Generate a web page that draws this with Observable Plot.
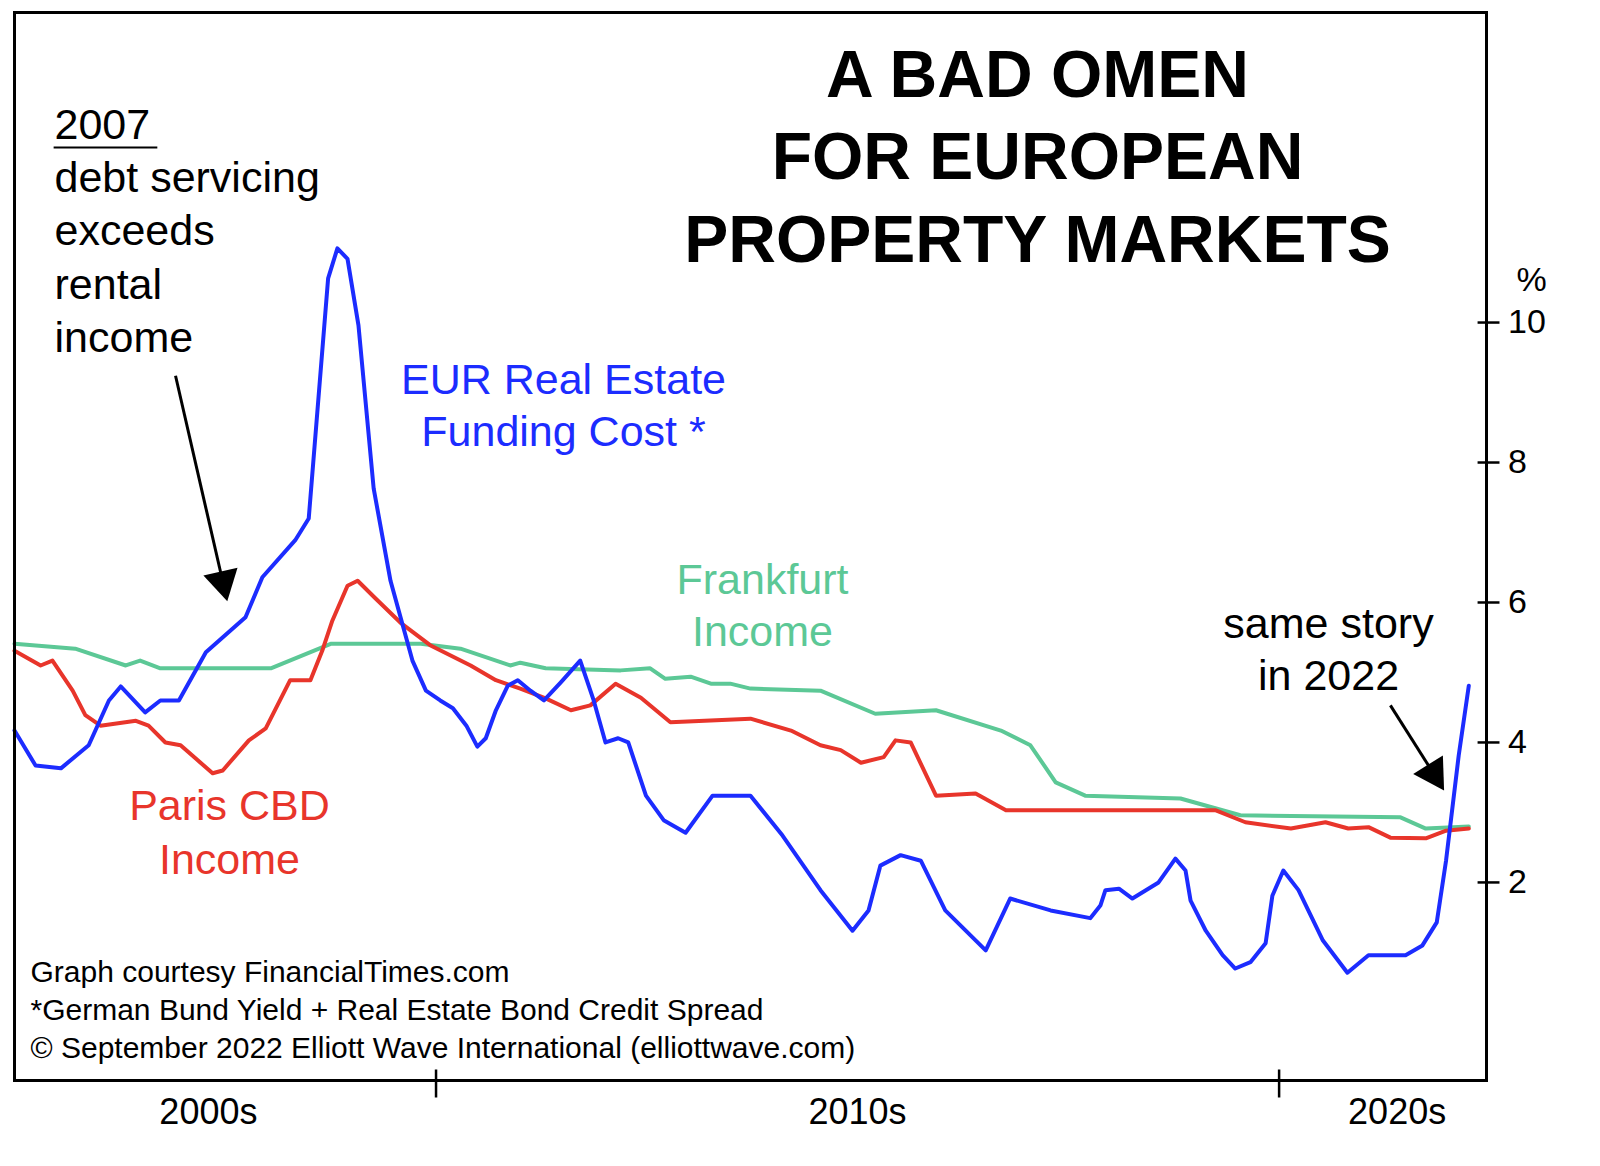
<!DOCTYPE html>
<html><head><meta charset="utf-8">
<script src="https://cdn.jsdelivr.net/npm/d3@7"></script>
<script src="https://cdn.jsdelivr.net/npm/@observablehq/plot@0.6"></script>
<style>body{margin:0;background:#fff}</style>
</head><body><div id="c"></div>
<script>
// years since 2005
const fundT=[0,0.25,0.55,0.88,1.12,1.26,1.55,1.73,1.95,2.27,2.74,2.94,3.33,3.49,3.72,3.83,3.95,4.08,4.26,4.46,4.72,4.88,5.05,5.20,5.36,5.49,5.59,5.71,5.85,5.97,6.12,6.28,6.48,6.71,6.87,7.01,7.16,7.28,7.49,7.70,7.96,8.28,8.73,9.11,9.56,9.94,10.13,10.27,10.51,10.75,11.04,11.52,11.81,12.29,12.76,12.88,12.94,13.10,13.26,13.57,13.77,13.89,13.95,14.13,14.33,14.48,14.66,14.84,14.92,15.05,15.23,15.52,15.81,16.06,16.50,16.70,16.87,16.98,17.13,17.25];
const fundV=[4.17,3.67,3.63,3.96,4.60,4.80,4.43,4.60,4.60,5.29,5.79,6.36,6.89,7.20,10.63,11.06,10.91,9.96,7.63,6.31,5.17,4.74,4.60,4.49,4.24,3.94,4.06,4.46,4.81,4.89,4.74,4.60,4.86,5.17,4.60,4.00,4.06,4.00,3.24,2.89,2.71,3.24,3.24,2.67,1.89,1.31,1.60,2.24,2.39,2.31,1.60,1.03,1.77,1.60,1.49,1.67,1.89,1.91,1.77,2.00,2.34,2.17,1.74,1.31,0.96,0.77,0.86,1.13,1.81,2.17,1.89,1.17,0.71,0.96,0.96,1.10,1.43,2.31,3.81,4.81];
const parisT=[0,0.31,0.45,0.69,0.84,1.02,1.44,1.59,1.79,1.97,2.15,2.35,2.47,2.78,2.98,3.27,3.51,3.65,3.77,3.95,4.07,4.28,4.58,4.93,5.41,5.71,6.00,6.30,6.60,6.83,7.13,7.43,7.78,8.73,9.21,9.56,9.80,10.04,10.31,10.45,10.63,10.93,11.40,11.76,14.25,14.60,15.14,15.55,15.82,16.06,16.32,16.74,16.98,17.25];
const parisV=[5.31,5.10,5.17,4.74,4.39,4.24,4.31,4.24,4.00,3.96,3.77,3.56,3.60,4.03,4.20,4.89,4.89,5.31,5.74,6.24,6.31,6.06,5.71,5.39,5.10,4.89,4.77,4.63,4.46,4.53,4.84,4.64,4.29,4.34,4.17,3.96,3.89,3.71,3.79,4.03,4.00,3.24,3.27,3.03,3.03,2.86,2.77,2.86,2.77,2.79,2.64,2.63,2.74,2.77];
const frankT=[0,0.72,1.32,1.49,1.73,3.04,3.75,4.82,5.29,5.88,6.00,6.30,7.19,7.54,7.72,8.02,8.26,8.49,8.73,9.56,10.21,10.93,11.70,12.05,12.35,12.70,13.83,14.54,16.44,16.74,17.25];
const frankV=[5.41,5.34,5.10,5.17,5.06,5.06,5.41,5.41,5.34,5.10,5.14,5.06,5.03,5.06,4.91,4.94,4.84,4.84,4.77,4.74,4.41,4.46,4.17,3.96,3.43,3.24,3.20,2.96,2.93,2.77,2.80];
const yTicks=[2,4,6,8,10];
const decadeLabels=["2000s","2010s","2020s"];
const decadeLabelYears=[2007.3,2015.0,2021.4];
const decadeTicks=[2010,2020];

const mk=(T,V)=>T.map((t,i)=>({x:2005+t,y:V[i]}));
const fund=mk(fundT,fundV),paris=mk(parisT,parisV),frank=mk(frankT,frankV);
const F="Liberation Sans, Arial, Helvetica, sans-serif";
const BLUE="#1c2cff",RED="#e8352b",GREEN="#5cc896";
function lines(arr,x,ys,o){return arr.map((s,i)=>Plot.text([s],{text:d=>d,frameAnchor:"top-left",dx:x-14,dy:ys[i]-12,fontFamily:F,lineAnchor:"middle",...o}));}
const arrows=[{x1:2006.91,y1:9.24,x2:2007.47,y2:6.30,rot:167},{x1:2021.32,y1:4.53,x2:2021.83,y2:3.56,rot:148}];

const chart=Plot.plot({
  width:1600,height:1166,marginLeft:14,marginRight:114,marginTop:12,marginBottom:86,
  style:{fontFamily:F,background:"#fff"},
  x:{type:"linear",domain:[2005,2022.46],axis:null},
  y:{type:"linear",domain:[-0.83,14.43],axis:null},
  marks:[
    Plot.line(frank,{x:"x",y:"y",stroke:GREEN,strokeWidth:4}),
    Plot.line(paris,{x:"x",y:"y",stroke:RED,strokeWidth:4}),
    Plot.line(fund,{x:"x",y:"y",stroke:BLUE,strokeWidth:4}),
    Plot.frame({stroke:"#000",strokeWidth:3}),
    Plot.ruleY(yTicks,{y:d=>d,x1:()=>2022.36,x2:()=>2022.62,stroke:"#000",strokeWidth:2.5}),
    Plot.text(yTicks,{y:d=>d,x:()=>2022.62,text:d=>String(d),textAnchor:"start",dx:8,fontSize:34,fontFamily:F}),
    Plot.ruleX(decadeTicks,{x:d=>d,y1:()=>-0.68,y2:()=>-1.08,stroke:"#000",strokeWidth:2.5}),
    Plot.text(decadeLabels,{x:(d,i)=>decadeLabelYears[i],y:()=>-0.83,text:d=>d,dy:32,fontSize:36,fontFamily:F}),
    ...lines(["%"],1531,[280],{fontSize:34,textAnchor:"middle"}),
    ...lines(["A BAD OMEN","FOR EUROPEAN","PROPERTY MARKETS"],1037,[75,157,240],{fontSize:66,fontWeight:"bold",textAnchor:"middle"}),
    ...lines(["2007","debt servicing","exceeds","rental","income"],54,[125,178,231,285,338],{fontSize:43,textAnchor:"start"}),
    Plot.ruleY([(1022-147)/70],{y:d=>d,x1:()=>2005.47,x2:()=>2006.70,stroke:"#000",strokeWidth:2}),
    ...lines(["EUR Real Estate","Funding Cost *"],563,[380,432],{fontSize:43,textAnchor:"middle",fill:BLUE}),
    ...lines(["Frankfurt","Income"],762,[580,632],{fontSize:43,textAnchor:"middle",fill:GREEN}),
    ...lines(["Paris CBD","Income"],229,[806,860],{fontSize:43,textAnchor:"middle",fill:RED}),
    ...lines(["same story","in 2022"],1328,[624,676],{fontSize:43,textAnchor:"middle"}),
    ...lines(["Graph courtesy FinancialTimes.com","*German Bund Yield + Real Estate Bond Credit Spread","© September 2022 Elliott Wave International (elliottwave.com)"],30,[972,1010,1048],{fontSize:30,textAnchor:"start"}),
    Plot.link(arrows,{x1:"x1",y1:"y1",x2:"x2",y2:"y2",stroke:"#000",strokeWidth:3}),
    Plot.dot(arrows,{x:"x2",y:"y2",symbol:"triangle",r:13,fill:"#000",stroke:"none",rotate:"rot"})
  ]
});
document.getElementById("c").appendChild(chart);
</script></body></html>
